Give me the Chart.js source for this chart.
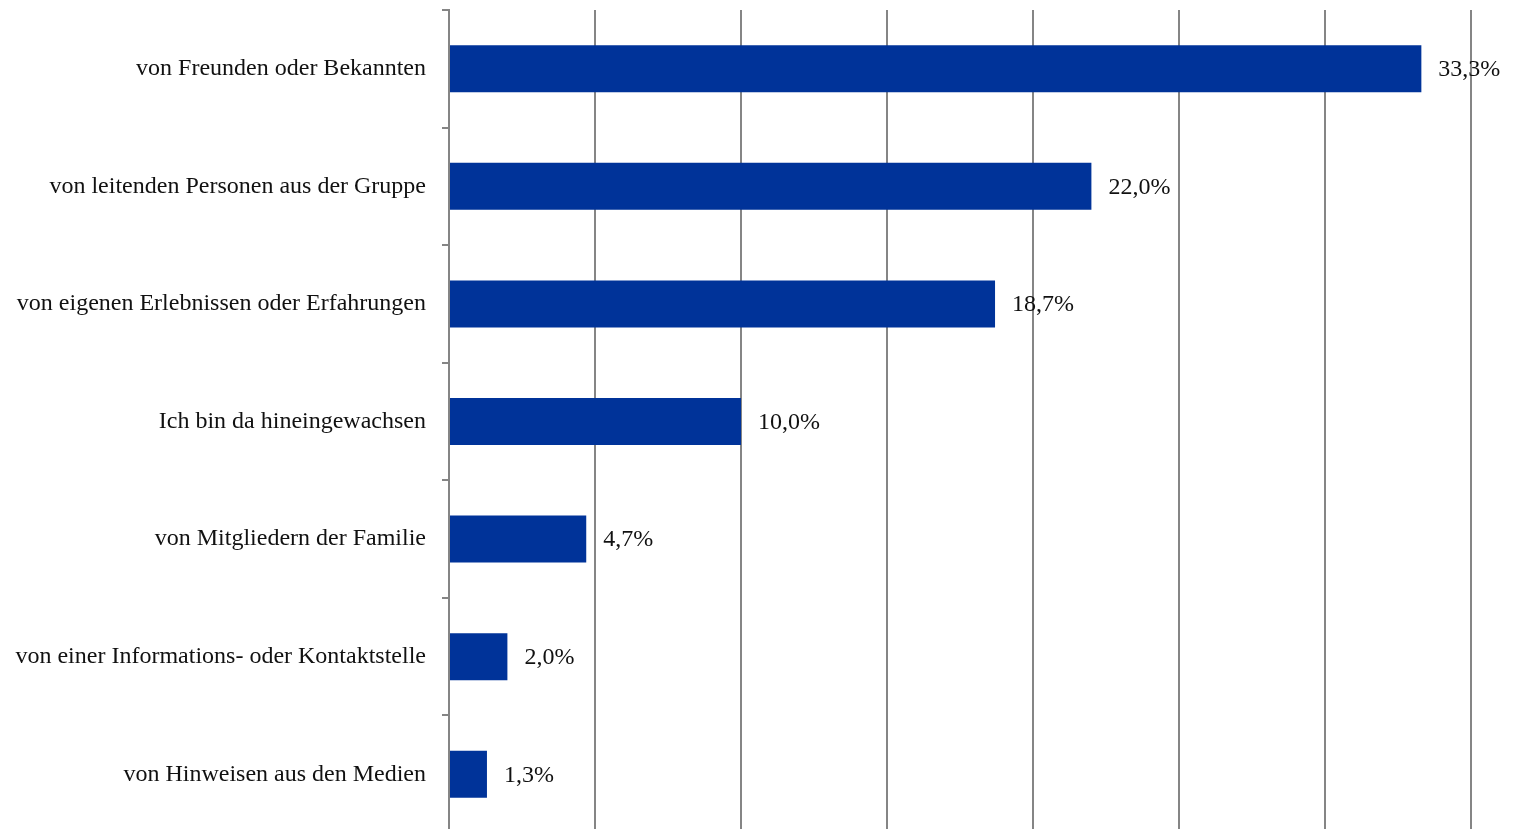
<!DOCTYPE html>
<html lang="de">
<head>
<meta charset="utf-8">
<script src="https://cdn.jsdelivr.net/npm/chart.js@4"></script>
<style>
  html, body { margin: 0; padding: 0; background: #fff; overflow: hidden; }
  #wrap { position: relative; width: 1517px; height: 833px; }
</style>
</head>
<body>
<div id="wrap"><canvas id="chart"></canvas></div>
<script>
// Antworten: Wie sind Sie auf die Gruppe aufmerksam geworden?
const categories = [
  'von Freunden oder Bekannten',
  'von leitenden Personen aus der Gruppe',
  'von eigenen Erlebnissen oder Erfahrungen',
  'Ich bin da hineingewachsen',
  'von Mitgliedern der Familie',
  'von einer Informations- oder Kontaktstelle',
  'von Hinweisen aus den Medien'
];
const shares = [33.3, 22.0, 18.7, 10.0, 4.7, 2.0, 1.3];

const serif = '"Liberation Serif", "DejaVu Serif", serif';

// writes the value with a German decimal comma next to each bar end
const valueLabels = {
  id: 'valueLabels',
  afterDatasetsDraw(chart) {
    const { ctx } = chart;
    const meta = chart.getDatasetMeta(0);
    ctx.save();
    ctx.font = '24px ' + serif;
    ctx.fillStyle = '#111';
    ctx.textBaseline = 'middle';
    meta.data.forEach((bar, i) => {
      const txt = shares[i].toFixed(1).replace('.', ',') + '%';
      ctx.fillText(txt, bar.x + 17, bar.y + 1);
    });
    ctx.restore();
  }
};

new Chart(document.getElementById('chart'), {
  type: 'bar',
  data: {
    labels: categories,
    datasets: [{
      data: shares,
      backgroundColor: '#003399',
      categoryPercentage: 0.4,
      barPercentage: 1.0
    }]
  },
  options: {
    indexAxis: 'y',
    responsive: true,
    maintainAspectRatio: false,
    animation: false,
    layout: { padding: { top: 10, right: 46, left: 0, bottom: 0 } },
    plugins: {
      legend: { display: false },
      tooltip: { enabled: false }
    },
    scales: {
      x: {
        min: 0,
        max: 35,
        afterFit(scale) {
          scale.height = 0;
          scale.paddingLeft = 0;
          scale.paddingRight = 0;
        },
        ticks: { display: false, stepSize: 5 },
        grid: { color: '#858585', lineWidth: 2, drawTicks: false },
        border: { display: false }
      },
      y: {
        afterFit(scale) {
          scale.width = 449;
          scale.paddingTop = 0;
          scale.paddingBottom = 0;
        },
        ticks: {
          color: '#111',
          font: { family: serif, size: 24 },
          padding: 16
        },
        grid: {
          offset: true,
          drawOnChartArea: false,
          drawTicks: true,
          tickLength: 7,
          color: '#858585',
          lineWidth: 2
        },
        border: { color: '#858585', width: 2 }
      }
    }
  },
  plugins: [valueLabels]
});
</script>
</body>
</html>
